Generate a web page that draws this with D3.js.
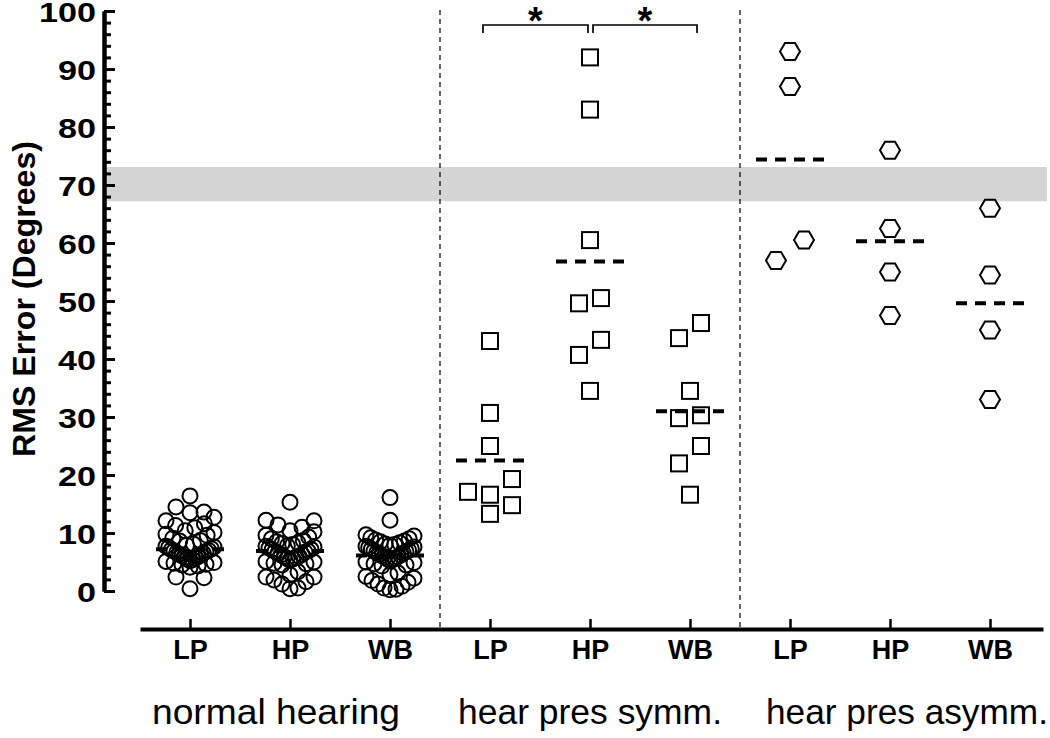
<!DOCTYPE html>
<html>
<head>
<meta charset="utf-8">
<script src="https://cdn.jsdelivr.net/npm/d3@7"></script>
<style>
  body { margin: 0; background: #fff; }
  text { font-family: "Liberation Sans", Arial, Helvetica, sans-serif; }
</style>
</head>
<body>
<script>
// condition labels under each column, and the three subject groups
var conditionLabels = ["LP", "HP", "WB", "LP", "HP", "WB", "LP", "HP", "WB"];
var groupNames = ["normal hearing", "hear pres symm.", "hear pres asymm."];

// RMS error per listener (degrees)
var nhLP = [16.4, 14.5, 13.6, 13.5, 12.7, 12.1, 11.6, 11.3, 10.9, 10.4, 10.1, 9.8, 9.6, 9.1, 8.7, 8.6, 8.1, 7.9, 7.7,
            7.6, 7.5, 7.3, 7.1, 7.0, 6.9, 6.8, 6.6, 6.5, 6.3, 6.2, 6.1, 5.9, 5.8, 5.7, 5.5, 5.4, 5.2, 5.1, 4.9,
            4.8, 4.6, 4.5, 4.3, 4.1, 2.4, 2.3, 0.4];
var nhHP = [15.3, 12.2, 12.1, 11.4, 11.0, 10.4, 10.2, 9.6, 9.3, 9.0, 8.7, 8.5, 8.3, 8.2, 8.0, 7.8, 7.7, 7.6, 7.4,
            7.2, 7.1, 6.9, 6.8, 6.7, 6.5, 6.3, 6.2, 6.0, 5.9, 5.8, 5.6, 5.5, 5.3, 5.1, 5.0, 4.8, 4.7, 4.5,
            3.3, 2.8, 2.4, 2.4, 1.9, 1.6, 1.2, 0.5, 0.4];
var nhWB = [16.1, 12.2, 9.7, 9.5, 9.2, 9.0, 8.8, 8.6, 8.5, 8.3, 8.1, 8.0, 7.9, 7.7, 7.6, 7.5, 7.3, 7.2, 7.0,
            6.9, 6.8, 6.6, 6.5, 6.3, 6.2, 6.1, 5.9, 5.8, 5.7, 5.5, 5.4, 5.2, 5.0, 4.9, 4.7, 4.5, 4.3,
            3.1, 2.8, 2.5, 2.2, 1.8, 1.5, 1.2, 0.8, 0.5, 0.3, 0.2];
var symLP = [43.1, 30.7, 25.0, 19.3, 17.1, 16.6, 14.8, 13.3];
var symHP = [92.0, 83.0, 60.5, 50.5, 49.6, 43.3, 40.7, 34.5];
var symWB = [46.2, 43.6, 34.5, 30.3, 29.8, 25.0, 22.0, 16.6];
var asyLP = [93.0, 87.0, 60.5, 57.0];
var asyHP = [76.0, 62.5, 55.0, 47.5];
var asyWB = [66.0, 54.5, 45.0, 33.0];

// dashed group means as drawn in the figure
var groupMeans = [7.2, 6.9, 6.1, 22.5, 56.8, 31.0, 74.4, 60.3, 49.6];

// grey reference band
var bandRange = [67.2, 73.1];

var yTicks = [0, 10, 20, 30, 40, 50, 60, 70, 80, 90, 100];
var sigPairs = [[3, 4], [4, 5]];

var columns = [nhLP, nhHP, nhWB, symLP, symHP, symWB, asyLP, asyHP, asyWB];
var shapes = ["circle", "circle", "circle", "square", "square", "square", "hex", "hex", "hex"];

var svg = d3.select("body").append("svg")
  .attr("width", 1050)
  .attr("height", 738);

var x = d3.scaleLinear().domain([-0.5, 8.53]).range([140, 1043]);
var y = d3.scaleLinear().domain([0, 100]).range([591, 11]);

// grey band
svg.append("rect")
  .attr("x", 106)
  .attr("width", 1047 - 106)
  .attr("y", y(bandRange[1]))
  .attr("height", y(bandRange[0]) - y(bandRange[1]))
  .attr("fill", "#d4d4d4");

// group dividers
svg.selectAll("line.divider").data([2.5, 5.5]).enter()
  .append("line")
  .attr("class", "divider")
  .attr("x1", function(d) { return x(d) })
  .attr("x2", function(d) { return x(d) })
  .attr("y1", 10)
  .attr("y2", 629)
  .attr("stroke", "#000")
  .attr("stroke-width", 1.2)
  .attr("stroke-dasharray", "5,4");

// sorted points of a column with their pixel y
var sortedPts = function(vals) {
  return vals.slice().sort(function(a, b) { return a - b })
    .map(function(v) { return {v: v, py: y(v), dx: 0} });
};

var centre = function(c) {
  var mid = (d3.min(c, function(d) { return d.dx }) + d3.max(c, function(d) { return d.dx })) / 2;
  c.forEach(function(d) { d.dx -= mid });
};

// sparse columns: nudge a point sideways only when it would touch another
var swarm = function(vals, wx, wy, maxHalf) {
  var pts = sortedPts(vals);
  var placed = [];
  pts.forEach(function(p) {
    var best = 0, bestHits = Infinity;
    for (var k = 0; k <= 2 * maxHalf; k++) {
      var dx = k === 0 ? 0 : (k % 2 ? Math.ceil(k / 2) : -Math.ceil(k / 2));
      var hits = placed.filter(function(q) {
        return Math.abs(q.dx - dx) < wx && Math.abs(q.py - p.py) < wy;
      }).length;
      if (hits === 0) { best = dx; break; }
      if (hits < bestHits) { bestHits = hits; best = dx; }
    }
    p.dx = best;
    placed.push(p);
  });
  // centre each chain of neighbouring points on the column
  var start = 0;
  for (var i = 1; i <= pts.length; i++) {
    if (i === pts.length || pts[i - 1].py - pts[i].py >= wy) {
      centre(pts.slice(start, i));
      start = i;
    }
  }
  return pts;
};

// dense columns: values are cut into rows of fixed height, each row is fanned
// out from the middle (lowest value in the centre), squeezed to the column width
var fan = function(vals, rowH, w, maxHalf) {
  var pts = sortedPts(vals);
  var rows = d3.groups(pts, function(d) { return Math.floor(d.v / rowH) });
  rows.forEach(function(r) {
    var c = r[1];
    var step = c.length > 1 ? Math.min(w, 2 * maxHalf / (c.length - 1)) : 0;
    c.forEach(function(d, k) {
      d.dx = (k % 2 ? 1 : -1) * Math.ceil(k / 2) * step;
    });
    centre(c);
  });
  return pts;
};

var hexPath = "M-10,0L-5,-8.5L5,-8.5L10,0L5,8.5L-5,8.5Z";

var marks = svg.append("g");
columns.forEach(function(vals, i) {
  var shape = shapes[i];
  var pts;
  if (shape === "circle") pts = fan(vals, 2.6, 14, 24);
  else if (shape === "square") pts = swarm(vals, 22, 18, 30);
  else pts = swarm(vals, 28, 22, 30);
  var g = marks.append("g");
  var sel = g.selectAll(".pt").data(pts).enter();
  if (shape === "circle") {
    sel.append("circle")
      .attr("cx", function(d) { return x(i) + d.dx })
      .attr("cy", function(d) { return d.py })
      .attr("r", 7.5);
  } else if (shape === "square") {
    sel.append("rect")
      .attr("x", function(d) { return x(i) + d.dx - 8 })
      .attr("y", function(d) { return d.py - 8 })
      .attr("width", 16)
      .attr("height", 16);
  } else {
    sel.append("path")
      .attr("d", hexPath)
      .attr("transform", function(d) { return "translate(" + (x(i) + d.dx) + "," + d.py + ")" });
  }
  g.selectAll("circle,rect,path")
    .attr("fill", "none")
    .attr("stroke", "#000")
    .attr("stroke-width", 2);
});

// dashed mean lines
svg.selectAll("line.mean").data(groupMeans).enter()
  .append("line")
  .attr("class", "mean")
  .attr("x1", function(d, i) { return x(i) - 34 })
  .attr("x2", function(d, i) { return x(i) + 34 })
  .attr("y1", function(d) { return y(d) })
  .attr("y2", function(d) { return y(d) })
  .attr("stroke", "#000")
  .attr("stroke-width", 4)
  .attr("stroke-dasharray", "11,8");

// significance brackets
sigPairs.forEach(function(p, k) {
  var x1 = x(p[0]) + (k === 0 ? -7 : 3);
  var x2 = x(p[1]) + (k === 0 ? -2 : 7);
  svg.append("path")
    .attr("d", "M" + x1 + ",33V25H" + x2 + "V33")
    .attr("fill", "none")
    .attr("stroke", "#000")
    .attr("stroke-width", 1.7);
  svg.append("text")
    .attr("x", (x1 + x2) / 2)
    .attr("y", 34)
    .attr("text-anchor", "middle")
    .attr("font-size", 38)
    .attr("font-weight", "bold")
    .text("*");
});

// y axis: minor ticks every 2, labelled ticks every 10
var yg = svg.append("g").attr("transform", "translate(104,0)");
yg.append("g")
  .call(d3.axisLeft(y).tickValues(d3.range(0, 101, 2)).tickSize(-7).tickSizeOuter(0).tickFormat(""));
yg.append("g")
  .call(d3.axisLeft(y).tickValues(yTicks).tickSize(-11).tickSizeOuter(0).tickPadding(8));
yg.selectAll(".domain").attr("stroke-width", 4);
yg.selectAll(".tick line").attr("stroke-width", 3);
yg.selectAll(".tick text")
  .attr("font-family", "Liberation Sans, Arial, sans-serif")
  .attr("font-size", 28)
  .attr("font-weight", "bold")
  .attr("fill", "#000")
  .attr("x", -8 / 1.22)
  .attr("dy", "0.38em")
  .attr("transform", "scale(1.22,1)");

svg.append("text")
  .attr("transform", "translate(35,299) rotate(-90)")
  .attr("text-anchor", "middle")
  .attr("font-size", 32)
  .attr("font-weight", "bold")
  .attr("textLength", 316)
  .attr("lengthAdjust", "spacingAndGlyphs")
  .text("RMS Error (Degrees)");

// x axis
var xg = svg.append("g").attr("transform", "translate(0,629)")
  .call(d3.axisBottom(x).tickValues(d3.range(9))
    .tickFormat(function(i) { return conditionLabels[i] })
    .tickSize(-10).tickSizeOuter(0).tickPadding(11));
xg.select(".domain").attr("stroke-width", 4);
xg.selectAll(".tick line").attr("stroke-width", 2.5);
xg.selectAll(".tick text")
  .attr("font-family", "Liberation Sans, Arial, sans-serif")
  .attr("font-size", 27)
  .attr("font-weight", "bold")
  .attr("fill", "#000");

// group names under the axis
var groupX = [276, 590, 907];
var groupW = [248, 264, 282];
svg.selectAll("text.group").data(groupNames).enter()
  .append("text")
  .attr("class", "group")
  .attr("x", function(d, i) { return groupX[i] })
  .attr("y", 724)
  .attr("text-anchor", "middle")
  .attr("font-size", 35)
  .attr("textLength", function(d, i) { return groupW[i] })
  .attr("lengthAdjust", "spacingAndGlyphs")
  .text(function(d) { return d });
</script>
</body>
</html>
